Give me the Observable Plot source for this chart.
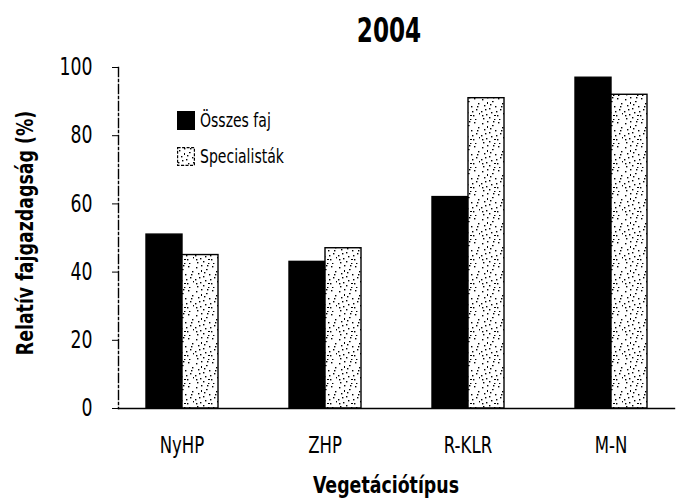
<!DOCTYPE html>
<html>
<head>
<meta charset="utf-8">
<script src="https://cdn.jsdelivr.net/npm/d3@7"></script>
<script src="https://cdn.jsdelivr.net/npm/@observablehq/plot@0.6"></script>
<style>
  body { margin: 0; background: #fff; }
  #wrap { position: relative; width: 682px; height: 504px; background: #fff;
          font-family: "DejaVu Sans Condensed", "Liberation Sans Narrow", sans-serif; color: #000; }
  #wrap svg.plot { position: absolute; left: 0; top: 0; }
  .title { position: absolute; left: 389px; top: 14px; transform: translateX(-50%) scaleX(0.78);
           font-size: 33px; font-weight: bold; line-height: 1; white-space: nowrap; }
  .xlabel { position: absolute; left: 386px; top: 474px; transform: translateX(-50%) scaleX(0.84);
            font-size: 23px; font-weight: bold; line-height: 1; white-space: nowrap; }
  .ylabel { position: absolute; left: 25px; top: 233px; transform: translate(-50%, -50%) rotate(-90deg) scaleX(0.84);
            font-size: 23px; font-weight: bold; line-height: 1; white-space: nowrap; }
  .legend { position: absolute; left: 177px; top: 110px; font-size: 19px; line-height: 1; }
  .legend .row { display: flex; align-items: center; height: 20px; margin-bottom: 16px; white-space: nowrap; }
  .legend svg { margin-right: 5px; flex: none; }
  .legend span { display: inline-block; transform: scaleX(0.82); transform-origin: left center; }
</style>
</head>
<body>
<svg width="0" height="0" style="position:absolute">
  <defs>
    <pattern id="stipple" width="24" height="24" patternUnits="userSpaceOnUse">
      <rect width="24" height="24" fill="#fff"/>
      <g fill="#000">
        <rect x="2" y="3" width="1.4" height="1.4"/>
        <rect x="7" y="1" width="1.4" height="1.4"/>
        <rect x="12" y="5" width="1.6" height="1.2"/>
        <rect x="18" y="2" width="1.4" height="1.4"/>
        <rect x="22" y="7" width="1.4" height="1.4"/>
        <rect x="4" y="9" width="1.4" height="1.4"/>
        <rect x="9" y="12" width="1.4" height="1.4"/>
        <rect x="15" y="10" width="1.4" height="1.4"/>
        <rect x="20" y="13" width="1.4" height="1.4"/>
        <rect x="1" y="15" width="1.4" height="1.4"/>
        <rect x="6" y="18" width="1.4" height="1.4"/>
        <rect x="11" y="16" width="1.4" height="1.4"/>
        <rect x="17" y="19" width="1.4" height="1.4"/>
        <rect x="23" y="17" width="1" height="1.4"/>
        <rect x="3" y="22" width="1.4" height="1.4"/>
        <rect x="9" y="21" width="1.4" height="1.4"/>
        <rect x="14" y="23" width="1.4" height="1"/>
        <rect x="19" y="23" width="1.4" height="1"/>
        <rect x="13" y="1" width="1.4" height="1.4"/>
        <rect x="21" y="10" width="1.4" height="1.4"/>
        <rect x="5" y="13" width="1.4" height="1.4"/>
        <rect x="16" y="15" width="1.4" height="1.4"/>
        <rect x="10" y="8" width="1.4" height="1.4"/>
        <rect x="2" y="19" width="1.4" height="1.4"/>
        <rect x="14" y="19" width="2" height="1"/>
        <rect x="7" y="6" width="1" height="2"/>
      </g>
    </pattern>
  </defs>
</svg>
<div id="wrap"></div>
<script>
// ---- data ----
const categories = ["NyHP", "ZHP", "R-KLR", "M-N"];
const seriesNames = ["Összes faj", "Specialisták"];
const osszesFaj = [51, 43, 62, 97];
const specialistak = [45, 47, 91, 92];
const yTicks = [0, 20, 40, 60, 80, 100];
const titleText = "2004";
const xLabelText = "Vegetációtípus";
const yLabelText = "Relatív fajgazdagság (%)";

const data = categories.flatMap((c, i) => [
  {cat: c, series: seriesNames[0], value: osszesFaj[i]},
  {cat: c, series: seriesNames[1], value: specialistak[i]}
]);

const font = '"DejaVu Sans Condensed", "Liberation Sans Narrow", sans-serif';

const chart = Plot.plot({
  width: 682,
  height: 504,
  marginTop: 67,
  marginBottom: 96,
  marginLeft: 116,
  marginRight: 6,
  style: {fontFamily: font, background: "#fff", color: "#000", overflow: "visible"},
  fx: {domain: categories, paddingInner: 0.111, paddingOuter: 0, label: null},
  x: {domain: seriesNames, paddingInner: 0, paddingOuter: 0.73, axis: null},
  y: {domain: [0, 100], axis: null},
  color: {domain: seriesNames, range: ["#000", "url(#stipple)"]},
  marks: [
    Plot.barY(data, {fx: "cat", x: "series", y: "value", fill: "series", stroke: "#000", strokeWidth: 1.4}),
    Plot.axisY(yTicks, {tickSize: 6, tickPadding: 20, fontSize: 24, label: null, stroke: "#000"}),
    Plot.axisFx({anchor: "bottom", tickSize: 0, tickPadding: 28, fontSize: 23, label: null}),
    Plot.frame({anchor: "bottom", facet: "super", stroke: "#000", strokeWidth: 1.4}),
    Plot.frame({anchor: "left", facet: "super", stroke: "#000", strokeWidth: 1.4, strokeDasharray: "9,3,2,3"})
  ]
});
chart.classList.add("plot");

// narrow the tick labels horizontally to mimic the condensed original typeface
chart.querySelectorAll('g[aria-label$="tick label"] text').forEach(t => {
  const tr = t.getAttribute("transform") || "";
  t.setAttribute("transform", tr + " scale(0.8,1)");
});

const wrap = document.getElementById("wrap");
wrap.appendChild(chart);

function addDiv(cls, text) {
  const d = document.createElement("div");
  d.className = cls;
  d.textContent = text;
  wrap.appendChild(d);
  return d;
}
addDiv("title", titleText);
addDiv("xlabel", xLabelText);
addDiv("ylabel", yLabelText);

const legend = document.createElement("div");
legend.className = "legend";
const fills = ["#000", "url(#stipple)"];
seriesNames.forEach((s, i) => {
  const row = document.createElement("div");
  row.className = "row";
  row.innerHTML = `<svg width="18" height="19"><rect x="0.6" y="0.6" width="16.8" height="17.8" fill="${fills[i]}" stroke="#000" stroke-width="1.2" ${i ? 'stroke-dasharray="3,1.5"' : ''}/></svg><span>${s}</span>`;
  legend.appendChild(row);
});
wrap.appendChild(legend);
</script>
</body>
</html>
